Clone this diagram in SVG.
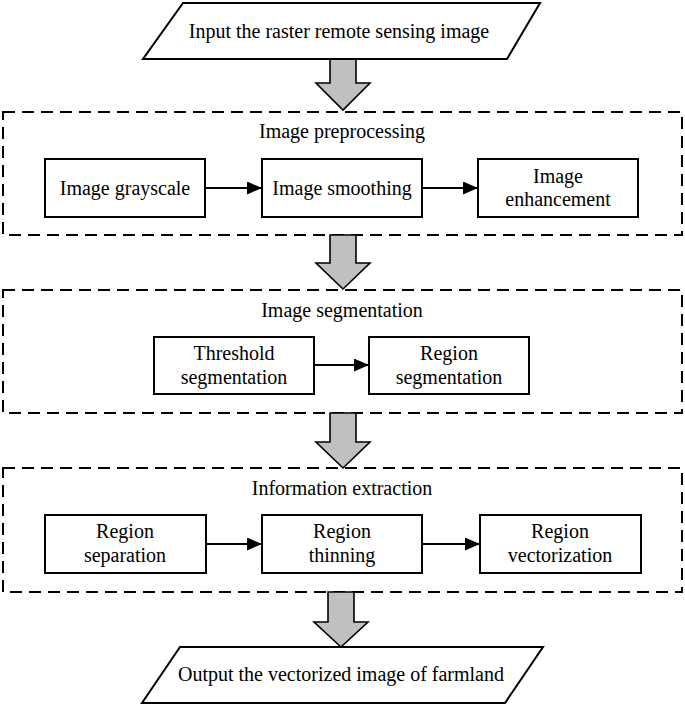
<svg xmlns="http://www.w3.org/2000/svg" width="685" height="705" viewBox="0 0 685 705">
<style>
text{font-family:"Liberation Serif","Times New Roman",serif;font-size:20px;fill:#000;text-anchor:middle}
.box{fill:#fff;stroke:#000;stroke-width:2}
.grp{fill:none;stroke:#000;stroke-width:2;stroke-dasharray:12 7}
.big{fill:#c0c0c0;stroke:#000;stroke-width:1.6;stroke-linejoin:miter}
.ln{stroke:#000;stroke-width:2;fill:none}
</style>
<defs>
<marker id="ah" viewBox="0 0 10 10" refX="10" refY="5" markerWidth="15" markerHeight="13" markerUnits="userSpaceOnUse" orient="auto" preserveAspectRatio="none">
<path d="M0,0 L10,5 L0,10 Z" fill="#000"/>
</marker>
</defs>
<g id="groups">
<rect id="g-pre" class="grp" x="3" y="112" width="679" height="123"/>
<rect id="g-seg" class="grp" x="3" y="290" width="679" height="123"/>
<rect id="g-ext" class="grp" x="3" y="468" width="679" height="124"/>
</g>
<g id="connectors">
<path class="big" d="M330,59 L356,59 L356,83 L370,83 L343,110 L316,83 L330,83 Z"/>
<path class="big" d="M330,235 L356,235 L356,263 L370,263 L343,289 L316,263 L330,263 Z"/>
<path class="big" d="M330,413 L356,413 L356,442 L370,442 L343,468 L316,442 L330,442 Z"/>
<path class="big" d="M328,592 L354,592 L354,622 L368,622 L341,647 L314,622 L328,622 Z"/>
<line class="ln" x1="205" y1="188" x2="262" y2="188" marker-end="url(#ah)"/>
<line class="ln" x1="422" y1="188" x2="478" y2="188" marker-end="url(#ah)"/>
<line class="ln" x1="314" y1="365" x2="369" y2="365" marker-end="url(#ah)"/>
<line class="ln" x1="206" y1="544" x2="262" y2="544" marker-end="url(#ah)"/>
<line class="ln" x1="422" y1="544" x2="480" y2="544" marker-end="url(#ah)"/>
</g>
<g id="n-input">
<path class="box" d="M183,3 L540,3 L507,59 L143,59 Z"/>
<text x="339" y="38">Input the raster remote sensing image</text>
</g>
<text id="t-pre" x="342" y="138">Image preprocessing</text>
<g id="n-gray">
<rect class="box" x="45" y="159" width="160" height="58"/>
<text x="125" y="195">Image grayscale</text>
</g>
<g id="n-smooth">
<rect class="box" x="262" y="159" width="160" height="58"/>
<text x="342" y="195">Image smoothing</text>
</g>
<g id="n-enh">
<rect class="box" x="478" y="159" width="160" height="58"/>
<text x="558" y="183">Image</text>
<text x="558" y="206">enhancement</text>
</g>
<text id="t-seg" x="342" y="317">Image segmentation</text>
<g id="n-thr">
<rect class="box" x="154" y="337" width="160" height="57"/>
<text x="234" y="360">Threshold</text>
<text x="234" y="384">segmentation</text>
</g>
<g id="n-rseg">
<rect class="box" x="369" y="337" width="160" height="57"/>
<text x="449" y="360">Region</text>
<text x="449" y="384">segmentation</text>
</g>
<text id="t-ext" x="342" y="495">Information extraction</text>
<g id="n-sep">
<rect class="box" x="45" y="515" width="161" height="58"/>
<text x="125" y="538">Region</text>
<text x="125" y="562">separation</text>
</g>
<g id="n-thin">
<rect class="box" x="262" y="515" width="160" height="58"/>
<text x="342" y="538">Region</text>
<text x="342" y="562">thinning</text>
</g>
<g id="n-vec">
<rect class="box" x="480" y="515" width="161" height="58"/>
<text x="560" y="538">Region</text>
<text x="560" y="562">vectorization</text>
</g>
<g id="n-output">
<path class="box" d="M180,647 L543,647 L505,703 L142,703 Z"/>
<text x="341" y="681">Output the vectorized image of farmland</text>
</g>
</svg>
